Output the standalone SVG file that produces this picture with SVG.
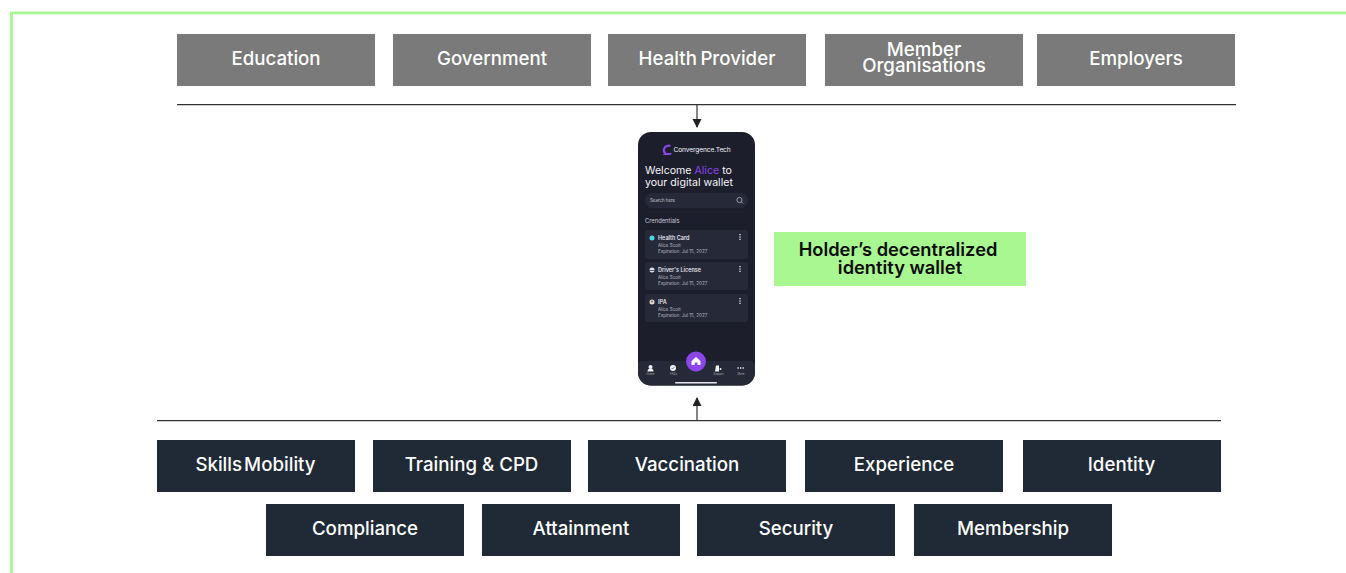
<svg xmlns="http://www.w3.org/2000/svg" width="1346" height="573" viewBox="0 0 1346 573">
<style>
text{font-family:"Inter","Liberation Sans",sans-serif}
.n{font-size:18.7px;font-weight:500;fill:#fff;text-anchor:middle}
.g{fill:#7a7a7a}.d{fill:#1f2a36}
.c{fill:none;stroke:#333;stroke-width:1.2}
.card{fill:#262938}
.t{font-size:5.500px;font-weight:600;fill:#e0e0e8}
.s{font-size:4.500px;font-weight:400;fill:#b8b9c4}
.nav{font-size:2.800px;fill:#a8a9b4;text-anchor:middle}
.ico{fill:#f1f1f4}
.dots{stroke:#e8e8ee;stroke-width:1.300;stroke-dasharray:1.300 1.100;fill:none}
.h{font-size:18.300px;font-weight:600;fill:#0b0b0b;text-anchor:middle}
.w{font-size:10.600px;font-weight:400;fill:#f4f4f7}
</style>
<defs>
<marker id="a" markerWidth="9" markerHeight="10" refX="8" refY="4.500" orient="auto" markerUnits="userSpaceOnUse"><path d="M0 0L9 4.500L0 9Z" fill="#222"/></marker>
</defs>
<rect width="1346" height="573" fill="#fff"/>
<path d="M1346 12.900H11.500V573" fill="none" stroke="#a8f790" stroke-width="2.800"/>
<g id="education"><rect class="g" x="177" y="34" width="198" height="52"/><text class="n" x="276" y="64.500">Education</text></g>
<g id="government"><rect class="g" x="393" y="34" width="198" height="52"/><text class="n" x="492" y="64.500">Government</text></g>
<g id="health-provider"><rect class="g" x="608" y="34" width="198" height="52"/><text class="n" x="707" y="64.500" word-spacing="-1.500">Health Provider</text></g>
<g id="member-organisations"><rect class="g" x="825" y="34" width="198" height="52"/><text class="n" x="924" y="56">Member</text><text class="n" x="924" y="72">Organisations</text></g>
<g id="employers"><rect class="g" x="1037" y="34" width="198" height="52"/><text class="n" x="1136" y="64.500">Employers</text></g>
<g id="connectors">
<path class="c" d="M177 104.700H1236"/>
<path class="c" d="M157 420.700H1221"/>
<path class="c" d="M697 105V127" marker-end="url(#a)"/>
<path class="c" d="M697 421V398" marker-end="url(#a)"/>
</g>
<g id="wallet-phone">
<rect x="638" y="132" width="117" height="253.500" rx="13" fill="#1d1e2c"/>
<path d="M670.500 146a4.800 4.800 0 0 0-6.500 3a4.300 4.300 0 0 0 1.500 4.500" fill="none" stroke="#8b45e8" stroke-width="2.200"/>
<path d="M662.500 155h8l1.500-2h-7Z" fill="#8b45e8"/>
<text x="673.500" y="152.300" font-size="6.600" font-weight="400" letter-spacing="-.1" fill="#f4f4f7">Convergence.Tech</text>
<text class="w" x="645" y="174">Welcome <tspan fill="#8b45e8">Alice</tspan> to</text>
<text class="w" x="645" y="186">your digital wallet</text>
<rect x="645" y="193" width="103" height="15" rx="7.500" fill="#262938"/>
<text x="650" y="201.800" font-size="4.400" fill="#c8c9d2">Search here</text>
<circle cx="739.500" cy="200" r="2.600" fill="none" stroke="#c8c9d2" stroke-width=".7"/>
<path d="M741.500 202l1.500 1.500" stroke="#c8c9d2" stroke-width=".7"/>
<path d="M645 212H748" stroke="#262938" stroke-width=".5"/>
<text x="645" y="223" font-size="5.800" font-weight="400" fill="#c8c9d2">Crendentials</text>
<rect class="card" x="645" y="230" width="103" height="29" rx="3"/>
<circle cx="652" cy="238" r="2.500" fill="#4fd6e4"/>
<text class="t" x="658" y="240">Health Card</text>
<text class="s" x="658" y="246.500">Alice Scott</text>
<text class="s" x="658" y="253">Expiration: Jul 15, 2027</text>
<path class="dots" d="M740 234v7"/>
<rect class="card" x="645" y="262" width="103" height="28" rx="3"/>
<circle cx="652" cy="270" r="2.500" fill="#dfe0e6"/><path d="M649.500 270.500h5" stroke="#1d1e2c" stroke-width=".7"/>
<text class="t" x="658" y="272">Driver's License</text>
<text class="s" x="658" y="278.500">Alice Scott</text>
<text class="s" x="658" y="285">Expiration: Jul 15, 2027</text>
<path class="dots" d="M740 266v7"/>
<rect class="card" x="645" y="294" width="103" height="28" rx="3"/>
<circle cx="652" cy="302" r="2.500" fill="#d8e0d8"/><circle cx="652" cy="301.500" r="1.100" fill="#c9564f"/>
<text class="t" x="658" y="304">IPA</text>
<text class="s" x="658" y="310.500">Alice Scott</text>
<text class="s" x="658" y="317">Expiration: Jul 15, 2027</text>
<path class="dots" d="M740 298v7"/>
<path d="M638 365q0-4 6-4H749q6 0 6 4V372.500a13 13 0 0 1-13 13H651a13 13 0 0 1-13-13Z" fill="#262938"/>
<circle cx="696" cy="361.500" r="10" fill="#8b45e8"/>
<path d="M696 357l4.500 4v4h-3v-2.500h-2.800v2.500h-3.200v-4Z" fill="#fff"/>
<circle cx="650.500" cy="367" r="2" class="ico"/><path d="M647.500 371.500q0-3 3-3t3 3Z" class="ico"/>
<text class="nav" x="650.500" y="375">Home</text>
<circle cx="673" cy="368" r="3" class="ico"/><path d="M671.500 368l1 1 2-2" fill="none" stroke="#262938" stroke-width=".6"/>
<text class="nav" x="673.500" y="375">FAQs</text>
<path d="M716 365.500h3v6h-4Z" class="ico"/><circle cx="720.500" cy="369" r="1" class="ico"/>
<text class="nav" x="718.500" y="375">Support</text>
<path d="M737.500 368h6.500" stroke="#f1f1f4" stroke-width="1.300" stroke-dasharray="1.300 1.200"/>
<text class="nav" x="741" y="375">More</text>
<rect x="675" y="382" width="42" height="1.500" rx=".7" fill="#e8e8ee"/>
</g>
<g id="holder-label"><rect x="774" y="232" width="252" height="54" fill="#a8f790"/>
<text class="h" x="898" y="255.500">Holder’s decentralized</text>
<text class="h" x="900" y="273.500">identity wallet</text></g>
<g id="skills-mobility"><rect class="d" x="157" y="440" width="198" height="52"/><text class="n" x="255.500" y="470.500" word-spacing="-3">Skills Mobility</text></g>
<g id="training-cpd"><rect class="d" x="373" y="440" width="198" height="52"/><text class="n" x="471.500" y="470.500">Training &amp; CPD</text></g>
<g id="vaccination"><rect class="d" x="588" y="440" width="198" height="52"/><text class="n" x="687" y="470.500">Vaccination</text></g>
<g id="experience"><rect class="d" x="805" y="440" width="198" height="52"/><text class="n" x="904" y="470.500">Experience</text></g>
<g id="identity"><rect class="d" x="1023" y="440" width="198" height="52"/><text class="n" x="1121.500" y="470.500">Identity</text></g>
<g id="compliance"><rect class="d" x="266" y="504" width="198" height="52"/><text class="n" x="365" y="534.500">Compliance</text></g>
<g id="attainment"><rect class="d" x="482" y="504" width="198" height="52"/><text class="n" x="581" y="534.500">Attainment</text></g>
<g id="security"><rect class="d" x="697" y="504" width="198" height="52"/><text class="n" x="796" y="534.500">Security</text></g>
<g id="membership"><rect class="d" x="914" y="504" width="198" height="52"/><text class="n" x="1013" y="534.500">Membership</text></g>
</svg>
